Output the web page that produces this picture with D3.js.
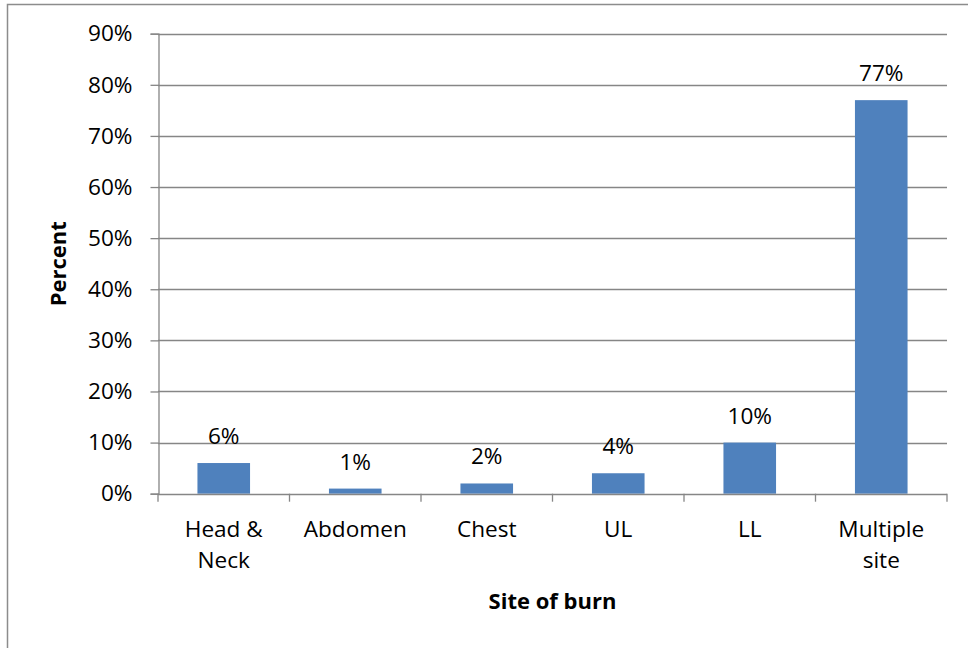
<!DOCTYPE html>
<html>
<head>
<meta charset="utf-8">
<script src="https://cdn.jsdelivr.net/npm/d3@7"></script>
<style>
  html, body { margin: 0; padding: 0; background: #fff; }
  svg { display: block; font-family: "Open Sans", sans-serif; }
</style>
</head>
<body>
<div id="main"></div>
<script>
'use strict';

// data
var sites = ['Head & Neck', 'Abdomen', 'Chest', 'UL', 'LL', 'Multiple site'];
var siteLines = [['Head &', 'Neck'], ['Abdomen'], ['Chest'], ['UL'], ['LL'], ['Multiple', 'site']];
var percent = [6, 1, 2, 4, 10, 77];
var yTicks = [0, 10, 20, 30, 40, 50, 60, 70, 80, 90];

var width = 968, height = 648;
var M = { left: 158, right: 947, top: 33.7, bottom: 493.7 };
var FS = '22.6px';

var svg = d3.select('#main').append('svg')
  .attr('width', width).attr('height', height);

// outer frame
svg.append('rect')
  .attr('x', 7.5).attr('y', 4.5)
  .attr('width', width).attr('height', height)
  .attr('fill', 'none').attr('stroke', '#8c8c8c').attr('stroke-width', 1.5);

var x = d3.scaleBand().domain(sites).range([M.left, M.right]).paddingInner(0.6).paddingOuter(0.3);
var xTick = d3.scaleBand().domain(sites).range([M.left, M.right]);
var y = d3.scaleLinear().domain([0, 90]).range([M.bottom, M.top]);

// gridlines
svg.append('g').selectAll('line')
  .data(yTicks.filter(function(d){ return d > 0; })).enter()
  .append('line')
  .attr('x1', M.left).attr('x2', M.right)
  .attr('y1', function(d){ return Math.round(y(d)) + 0.5; })
  .attr('y2', function(d){ return Math.round(y(d)) + 0.5; })
  .attr('stroke', '#868686').attr('stroke-width', 1.3);

// y axis
var yAxis = svg.append('g')
  .attr('transform', 'translate(' + (M.left + 0.5) + ',0)')
  .call(d3.axisLeft(y).tickValues(yTicks).tickSize(8).tickPadding(18)
    .tickFormat(function(d){ return d + '%'; }));
yAxis.select('.domain').attr('stroke', '#868686').attr('stroke-width', 1.3);
yAxis.selectAll('.tick line').attr('stroke', '#868686').attr('stroke-width', 1.3);
yAxis.selectAll('.tick text')
  .attr('font-family', '"Open Sans", sans-serif')
  .attr('font-size', FS).attr('fill', '#000');

// bars
svg.append('g').selectAll('rect')
  .data(percent).enter()
  .append('rect')
  .attr('x', function(d, i){ return x(sites[i]); })
  .attr('width', x.bandwidth())
  .attr('y', function(d){ return y(d); })
  .attr('height', function(d){ return y(0) - y(d); })
  .attr('fill', '#4f81bd');

// value labels
svg.append('g').selectAll('text')
  .data(percent).enter()
  .append('text')
  .attr('x', function(d, i){ return x(sites[i]) + x.bandwidth() / 2; })
  .attr('y', function(d){ return y(d) - 19; })
  .attr('text-anchor', 'middle')
  .attr('font-size', FS)
  .text(function(d){ return d + '%'; });

// x axis line + ticks
var xg = svg.append('g');
xg.append('line')
  .attr('x1', M.left).attr('x2', M.right)
  .attr('y1', Math.round(y(0)) + 0.5).attr('y2', Math.round(y(0)) + 0.5)
  .attr('stroke', '#868686').attr('stroke-width', 1.3);
xg.selectAll('line.tk')
  .data(sites.concat(['end'])).enter()
  .append('line').attr('class', 'tk')
  .attr('x1', function(d, i){ return i < sites.length ? xTick(d) : M.right; })
  .attr('x2', function(d, i){ return i < sites.length ? xTick(d) : M.right; })
  .attr('y1', y(0)).attr('y2', y(0) + 8)
  .attr('stroke', '#868686').attr('stroke-width', 1.3);

// category labels
var cat = svg.append('g').selectAll('text')
  .data(siteLines).enter()
  .append('text')
  .attr('x', function(d, i){ return xTick(sites[i]) + xTick.bandwidth() / 2; })
  .attr('y', 537)
  .attr('text-anchor', 'middle')
  .attr('font-size', FS);
cat.selectAll('tspan')
  .data(function(d){ return d; }).enter()
  .append('tspan')
  .attr('x', function(){ return d3.select(this.parentNode).attr('x'); })
  .attr('dy', function(d, i){ return i === 0 ? 0 : 31; })
  .text(function(d){ return d; });

// axis titles
svg.append('text')
  .attr('x', (M.left + M.right) / 2).attr('y', 609)
  .attr('text-anchor', 'middle')
  .attr('font-size', '22px').attr('font-weight', 'bold')
  .text('Site of burn');

svg.append('text')
  .attr('transform', 'translate(66,' + ((M.top + M.bottom) / 2) + ') rotate(-90)')
  .attr('text-anchor', 'middle')
  .attr('font-size', '22px').attr('font-weight', 'bold')
  .text('Percent');
</script>
</body>
</html>
